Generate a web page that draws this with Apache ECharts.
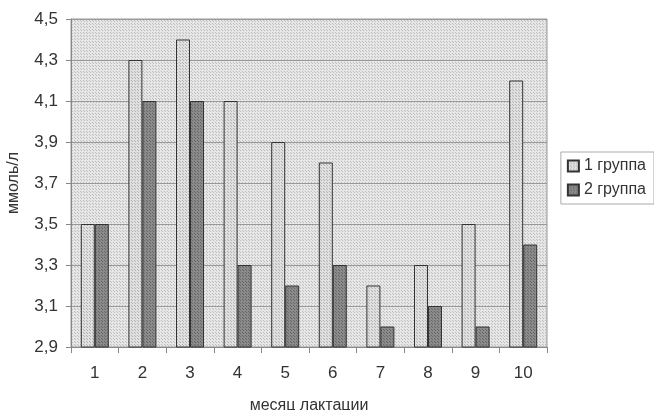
<!DOCTYPE html>
<html>
<head>
<meta charset="utf-8">
<script src="https://cdn.jsdelivr.net/npm/echarts@6/dist/echarts.min.js"></script>
<style>
  html, body { margin: 0; padding: 0; background: #fff; }
  #chart { width: 654px; height: 410px; }
</style>
</head>
<body>
<div id="chart"></div>
<script>
// данные
var months = ['1', '2', '3', '4', '5', '6', '7', '8', '9', '10'];
var group1 = [3.5, 4.3, 4.4, 4.1, 3.9, 3.8, 3.2, 3.3, 3.5, 4.2];
var group2 = [3.5, 4.1, 4.1, 3.3, 3.2, 3.3, 3.0, 3.1, 3.0, 3.4];
var seriesNames = ['1 группа', '2 группа'];

// точечная заливка как в Excel
function dots(base, dot) {
  var c = document.createElement('canvas');
  c.width = 3; c.height = 3;
  var ctx = c.getContext('2d');
  ctx.fillStyle = base;
  ctx.fillRect(0, 0, 3, 3);
  ctx.fillStyle = dot;
  ctx.fillRect(0, 0, 1, 1);
  ctx.fillRect(2, 2, 1, 1);
  return { image: c, repeat: 'repeat' };
}

var font = 'Liberation Sans';
var chart = echarts.init(document.getElementById('chart'), null, { renderer: 'canvas' });

chart.setOption({
  animation: false,
  textStyle: { fontFamily: font },
  grid: {
    left: 71, right: 107, top: 19, bottom: 63,
    outerBoundsMode: 'none',
    containLabel: false,
    show: true,
    backgroundColor: dots('#e6e6e6', '#bdbdbd'),
    borderColor: '#999',
    borderWidth: 1
  },
  legend: {
    orient: 'vertical',
    right: 0, top: 152,
    icon: 'rect',
    itemWidth: 11, itemHeight: 11,
    itemGap: 8,
    padding: [6, 8, 6, 6],
    borderColor: '#aaa', borderWidth: 1,
    textStyle: { fontSize: 16, color: '#333', fontFamily: font },
    data: seriesNames
  },
  xAxis: {
    type: 'category',
    data: months,
    name: 'месяц лактации',
    nameLocation: 'middle',
    nameGap: 51,
    nameTextStyle: { fontSize: 16, color: '#333' },
    axisLine: { lineStyle: { color: '#888' } },
    axisTick: { show: true, length: 6, lineStyle: { color: '#888' } },
    axisLabel: { fontSize: 17, color: '#333', margin: 18 },
    splitLine: { show: false }
  },
  yAxis: {
    type: 'value',
    min: 2.9, max: 4.5, interval: 0.2,
    name: 'ммоль/л',
    nameLocation: 'middle',
    nameGap: 49,
    nameTextStyle: { fontSize: 16, color: '#333' },
    axisLine: { show: true, lineStyle: { color: '#888' } },
    axisTick: { show: true, length: 5, lineStyle: { color: '#888' } },
    axisLabel: {
      fontSize: 17, color: '#333', margin: 13,
      formatter: function (v) { return v.toFixed(1).replace('.', ','); }
    },
    splitLine: { lineStyle: { color: '#999', width: 1 } }
  },
  series: [
    {
      name: seriesNames[0],
      type: 'bar',
      data: group1,
      barWidth: 14,
      barGap: '0%',
      itemStyle: { color: dots('#e0e0e0', '#b0b0b0'), borderColor: '#333', borderWidth: 1 }
    },
    {
      name: seriesNames[1],
      type: 'bar',
      data: group2,
      barWidth: 14,
      barGap: '0%',
      itemStyle: { color: dots('#8a8a8a', '#666'), borderColor: '#333', borderWidth: 1 }
    }
  ]
});
</script>
</body>
</html>
